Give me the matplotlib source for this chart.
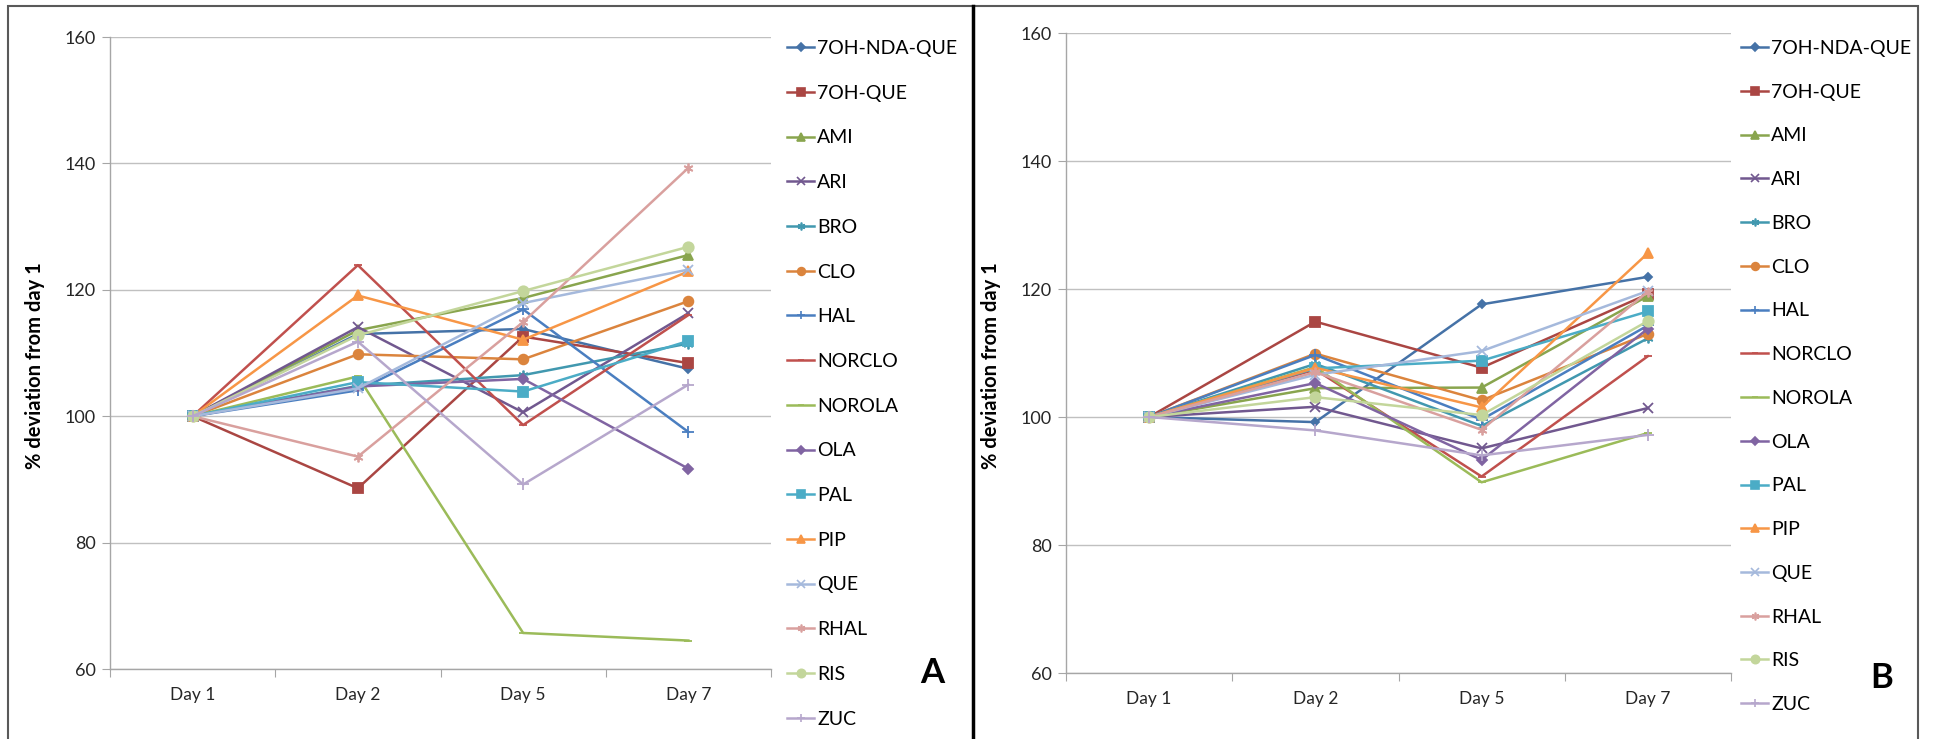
import matplotlib
matplotlib.use('Agg')
import matplotlib.pyplot as plt
from matplotlib.lines import Line2D
from matplotlib.patches import Rectangle

plt.rcParams['font.family'] = ['Lato', 'DejaVu Sans']

W, H = 1941, 739

# 数据
days = ['Day 1', 'Day 2', 'Day 5', 'Day 7']
drugs = ['7OH-NDA-QUE', '7OH-QUE', 'AMI', 'ARI', 'BRO', 'CLO', 'HAL', 'NORCLO',
         'NOROLA', 'OLA', 'PAL', 'PIP', 'QUE', 'RHAL', 'RIS', 'ZUC']

panel_a = [
    [100, 113.0, 113.8, 107.5],
    [100, 88.6, 112.6, 108.4],
    [100, 113.6, 118.7, 125.5],
    [100, 114.1, 100.6, 116.3],
    [100, 104.8, 106.5, 111.5],
    [100, 109.8, 109.0, 118.2],
    [100, 104.1, 116.9, 97.5],
    [100, 123.9, 98.6, 116.0],
    [100, 106.3, 65.7, 64.5],
    [100, 104.7, 105.9, 91.7],
    [100, 105.4, 103.9, 111.9],
    [100, 119.1, 112.1, 122.9],
    [100, 104.4, 117.9, 123.2],
    [100, 93.6, 114.9, 139.3],
    [100, 112.8, 119.8, 126.8],
    [100, 111.8, 89.2, 105.0],
]

panel_b = [
    [100, 99.2, 117.6, 121.9],
    [100, 114.9, 107.7, 119.2],
    [100, 104.5, 104.6, 118.9],
    [100, 101.6, 95.1, 101.4],
    [100, 108.3, 98.6, 112.3],
    [100, 109.9, 102.6, 113.0],
    [100, 109.7, 99.6, 114.3],
    [100, 107.4, 90.7, 109.5],
    [100, 107.8, 89.8, 97.5],
    [100, 105.3, 93.3, 113.8],
    [100, 107.6, 108.8, 116.5],
    [100, 107.7, 101.5, 125.6],
    [100, 106.6, 110.3, 119.7],
    [100, 107.0, 98.0, 119.6],
    [100, 103.1, 100.3, 115.0],
    [100, 97.9, 94.0, 97.2],
]

# 样式 (Excel 默认配色)
colors = ['#4572A7', '#AA4643', '#89A54E', '#71588F', '#4198AF', '#DB843D',
          '#4A7EC0', '#C0504D', '#9BBB59', '#8064A2', '#4BACC6', '#F79646',
          '#A5B9DC', '#D9A09E', '#C3D69B', '#B6A7CC']
asterisk = (6, 2, 0)
markers = ['D', 's', '^', 'x', asterisk, 'o', '+', '_', '_', 'D', 's', '^',
           'x', asterisk, 'o', '+']
msizes = [4.5, 6.5, 6.5, 7, 7, 7, 8, 6, 6, 5.5, 6.5, 6.5, 7, 7, 7.5, 8]

fig = plt.figure(figsize=(W / 100, H / 100), dpi=100)


def px_axes(left, top, right, bottom):
    return fig.add_axes([left / W, 1 - bottom / H, (right - left) / W, (bottom - top) / H])


def draw_panel(ax, values, letter, letter_xy, leg_xy, spacing):
    x = list(range(len(days)))
    for vals, c, m, ms, name in zip(values, colors, markers, msizes, drugs):
        ax.plot(x, vals, color=c, marker=m, markersize=ms, lw=1.8,
                markeredgewidth=1.3, label=name)
    ax.set_xlim(-0.5, 3.5)
    ax.set_ylim(60, 160)
    ax.set_yticks(range(60, 161, 20))
    ax.grid(axis='y', color='#C0C0C0', lw=1.0)
    ax.set_axisbelow(True)
    for s in ['top', 'right']:
        ax.spines[s].set_visible(False)
    for s in ['left', 'bottom']:
        ax.spines[s].set_color('#A6A6A6')
        ax.spines[s].set_linewidth(1.0)
    # 类别分隔刻度
    ax.set_xticks([-0.5, 0.5, 1.5, 2.5, 3.5])
    ax.set_xticklabels([])
    ax.set_xticks(x, minor=True)
    ax.set_xticklabels(days, minor=True)
    ax.tick_params(axis='x', which='major', length=6, color='#A6A6A6', direction='out')
    ax.tick_params(axis='x', which='minor', length=0, pad=13, labelsize=12.5, labelcolor='#262626')
    ax.tick_params(axis='y', length=6, color='#A6A6A6', pad=4, labelsize=13, labelcolor='#262626')
    ax.set_ylabel('% deviation from day 1', fontsize=14.5, fontweight='bold')
    ax.yaxis.set_label_coords(-0.098, 0.48)

    handles = [Line2D([0], [0], color=c, marker=m, markersize=ms * 0.8, lw=1.8,
                      markeredgewidth=1.2) for c, m, ms in zip(colors, markers, msizes)]
    fig.legend(handles, drugs, loc='upper left', bbox_to_anchor=(leg_xy[0] / W, 1 - leg_xy[1] / H),
               frameon=False, fontsize=14, handlelength=1.4, handletextpad=0.15,
               labelspacing=spacing, borderpad=0, borderaxespad=0)
    fig.text(letter_xy[0] / W, 1 - letter_xy[1] / H, letter, fontsize=25, fontweight='bold',
             ha='center', va='center')


ax_a = px_axes(110, 37, 771, 669)
draw_panel(ax_a, panel_a, 'A', (932, 673), (787, 40), 1.425)

ax_b = px_axes(1066, 33, 1731, 673)
draw_panel(ax_b, panel_b, 'B', (1882, 678), (1741, 40), 1.375)

# 面板边框
fig.patches.append(Rectangle((8 / W, -0.01), (1918 - 8) / W, 1.01 - 6 / H, transform=fig.transFigure,
                             fill=False, edgecolor='#595959', lw=1.5))
fig.lines.append(Line2D([973 / W, 973 / W], [0, 1 - 6 / H], transform=fig.transFigure,
                        color='black', lw=2.5))

plt.savefig('out.png', dpi=100)
plt.close()
